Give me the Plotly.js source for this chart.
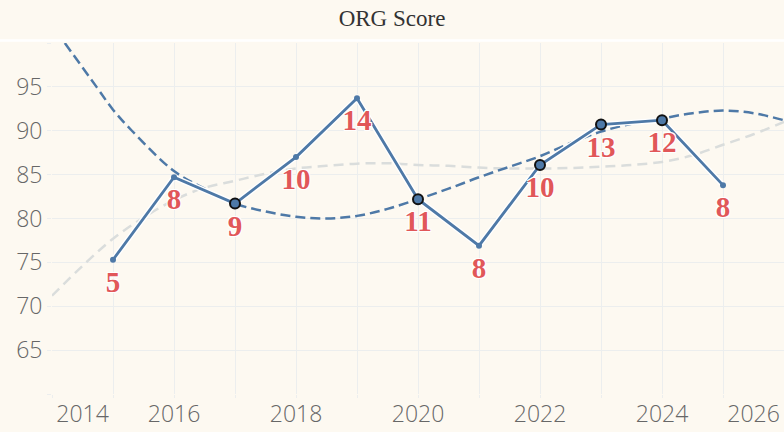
<!DOCTYPE html>
<html>
<head>
<meta charset="utf-8">
<script src="https://cdn.plot.ly/plotly-3.0.1.min.js"></script>
<style>html,body{margin:0;padding:0;background:#fdf9f1;}#chart{width:784px;height:432px;}</style>
</head>
<body>
<div id="chart"></div>
<script>
// ---- data ----
const years = [2015, 2016, 2017, 2018, 2019, 2020, 2021, 2022, 2023, 2024, 2025];
const scores = [75.3, 84.7, 81.7, 87.0, 93.7, 82.2, 76.9, 86.1, 90.7, 91.2, 83.8];
const counts = [5, 8, 9, 10, 14, 11, 8, 10, 13, 12, 8];
const highlight = [0, 0, 1, 0, 0, 1, 0, 1, 1, 1, 0];

const trendBlueX = [2014.21, 2014.73, 2015, 2015.31, 2016, 2016.5, 2017, 2017.5, 2018, 2018.5, 2019, 2019.5, 2020, 2020.5, 2021, 2021.5, 2022, 2022.5, 2023, 2023.5, 2024, 2024.5, 2025, 2025.5, 2026];
const trendBlueY = [100.0, 95.0, 92.4, 90.0, 85.4, 83.4, 81.7, 80.8, 80.2, 80.0, 80.3, 81.1, 82.2, 83.4, 84.7, 85.9, 87.1, 88.6, 89.9, 90.8, 91.4, 92.0, 92.3, 92.0, 91.2];

const trendGrayX = [2014, 2014.5, 2015, 2015.5, 2016, 2016.5, 2017, 2017.5, 2018, 2018.5, 2019, 2019.5, 2020, 2020.5, 2021, 2021.5, 2022, 2022.5, 2023, 2023.5, 2024, 2024.5, 2025, 2025.5, 2026];
const trendGrayY = [71.2, 74.6, 77.7, 80.1, 82.1, 83.5, 84.3, 85.1, 85.7, 86.0, 86.25, 86.3, 86.1, 86.0, 85.8, 85.7, 85.7, 85.75, 85.9, 86.1, 86.45, 87.2, 88.4, 89.6, 91.0];

const xTickVals = [2014.5, 2016, 2018, 2020, 2022, 2024, 2025.5];
const xTickText = ['2014', '2016', '2018', '2020', '2022', '2024', '2026'];
const yTickVals = [60, 65, 70, 75, 80, 85, 90, 95, 100];
const yTickText = ['', '65', '70', '75', '80', '85', '90', '95', ''];

// ---- styles ----
const BLUE = '#4e79a7';
const RED = '#e15759';
const GRID = '#eceeee';
const BG = '#fdf9f1';
const TICKFONT = {family: 'Open Sans, Lato, sans-serif', size: 23, color: '#676767', weight: 300};

const hlYears = years.filter((_, i) => highlight[i]);
const hlScores = scores.filter((_, i) => highlight[i]);

const traces = [
  {
    x: trendGrayX, y: trendGrayY, mode: 'lines', hoverinfo: 'skip',
    line: {color: '#dadddc', width: 2.5, dash: '10px,6px', shape: 'spline'}
  },
  {
    x: trendBlueX, y: trendBlueY, mode: 'lines', hoverinfo: 'skip',
    line: {color: BLUE, width: 2.5, dash: '10px,5px', shape: 'spline'}
  },
  {
    x: years, y: scores, mode: 'lines', hoverinfo: 'skip',
    line: {color: '#ffffff', width: 5.5}
  },
  {
    x: years, y: scores, mode: 'lines+markers',
    line: {color: BLUE, width: 2.8},
    marker: {color: BLUE, size: 6, line: {width: 0}}
  },
  {
    x: hlYears, y: hlScores, mode: 'markers',
    marker: {color: BLUE, size: 10, line: {color: '#111111', width: 2}}
  },
  {
    x: years, y: scores, mode: 'markers+text', text: counts.map(String),
    marker: {size: 15, opacity: 0},
    textposition: 'bottom center', hoverinfo: 'skip',
    textfont: {
      family: 'Liberation Serif, Times New Roman, serif', size: 29, color: RED, weight: 'bold',
      shadow: '1px 1px 0 #fff, -1px -1px 0 #fff, 1px -1px 0 #fff, -1px 1px 0 #fff'
    }
  }
];

const layout = {
  width: 784, height: 432,
  paper_bgcolor: BG, plot_bgcolor: BG,
  showlegend: false,
  margin: {l: 52, r: 0, t: 43, b: 38, pad: 0},
  title: {
    text: 'ORG Score', xref: 'container', x: 0.5, xanchor: 'center',
    yref: 'container', y: 1 - 17.5 / 432, yanchor: 'middle',
    font: {family: 'Liberation Serif, Times New Roman, serif', size: 23, color: '#333333'}
  },
  xaxis: {
    range: [2014, 2026], tickmode: 'array', tickvals: xTickVals, ticktext: xTickText,
    showgrid: false, zeroline: false, showline: false, ticks: '',
    ticklabelstandoff: 4,
    tickfont: TICKFONT,
    minor: {tick0: 2014, dtick: 1, showgrid: true, gridcolor: GRID, gridwidth: 1, ticks: 'outside', ticklen: 3, tickcolor: GRID},
    fixedrange: true
  },
  yaxis: {
    range: [60, 100], tickmode: 'array', tickvals: yTickVals, ticktext: yTickText,
    showgrid: true, gridcolor: GRID, gridwidth: 1, zeroline: false, showline: false,
    ticks: 'outside', ticklen: 4, tickcolor: GRID,
    tickfont: TICKFONT,
    fixedrange: true
  },
  shapes: [
    {type: 'line', xref: 'paper', yref: 'paper', x0: -0.1, x1: 1.1, y0: 1 + 2.5 / 351, y1: 1 + 2.5 / 351,
     line: {color: '#ffffff', width: 2.5}, layer: 'above'}
  ]
};

Plotly.newPlot('chart', traces, layout, {displayModeBar: false, staticPlot: true});
</script>
</body>
</html>
